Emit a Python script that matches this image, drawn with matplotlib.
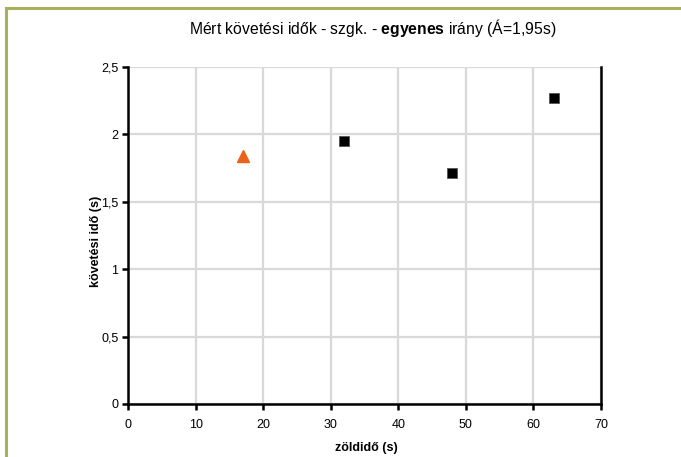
import matplotlib
matplotlib.use("Agg")
import matplotlib.pyplot as plt
from matplotlib.patches import Rectangle

plt.rcParams['font.family'] = ['Liberation Sans', 'DejaVu Sans']
plt.rcParams['mathtext.fontset'] = 'custom'
plt.rcParams['mathtext.rm'] = 'Liberation Sans'
plt.rcParams['mathtext.bf'] = 'Liberation Sans:bold'

# measured points
green_time = [32, 48, 63]
follow_time = [1.95, 1.71, 2.27]
# the single highlighted measurement
special_green = [17]
special_follow = [1.84]

x_ticks = [0, 10, 20, 30, 40, 50, 60, 70]
y_ticks = [0, 0.5, 1, 1.5, 2, 2.5]
y_tick_labels = ['0', '0,5', '1', '1,5', '2', '2,5']

fig = plt.figure(figsize=(6.81, 4.57), dpi=100)

# olive frame around the chart
fig.patches.append(Rectangle((6 / 681, -0.1), 1.2, (457 - 8) / 457 + 0.1,
                             transform=fig.transFigure, fill=False,
                             edgecolor='#a8b05a', linewidth=2.2))

ax = fig.add_axes([128 / 681, 1 - 404 / 457, 473 / 681, 337 / 457])
ax.set_xlim(0, 70)
ax.set_ylim(0, 2.5)
ax.set_xticks(x_ticks)
ax.set_yticks(y_ticks)
ax.set_yticklabels(y_tick_labels)
ax.grid(True, color='#d9d9d9', linewidth=1.6)
ax.set_axisbelow(True)

for side in ['left', 'bottom', 'right']:
    ax.spines[side].set_color('black')
    ax.spines[side].set_linewidth(1.8)
ax.spines['top'].set_visible(False)
ax.spines['right'].set_zorder(3)

ax.tick_params(axis='both', direction='out', length=4, width=1.8,
               labelsize=9, colors='black')
ax.tick_params(axis='x', pad=7)
ax.tick_params(axis='y', pad=3)

ax.plot(green_time, follow_time, linestyle='none', marker='s',
        markersize=7.2, markerfacecolor='black', markeredgecolor='#555555',
        markeredgewidth=0.6, clip_on=False, zorder=4)
ax.plot(special_green, special_follow, linestyle='none', marker='^',
        markersize=8.5, markerfacecolor='#e8641b', markeredgecolor='#e8641b',
        clip_on=False, zorder=4)

ax.set_xlabel('zöldidő (s)', fontsize=9, fontweight='bold', va='center')
ax.set_ylabel('követési idő (s)', fontsize=9, fontweight='bold', va='center')
ax.xaxis.set_label_coords(0.503, -0.131)
ax.yaxis.set_label_coords(-0.0677, 0.484)

fig.text(373 / 681, 1 - 28 / 457,
         r'Mért követési idők - szgk. - $\mathbf{egyenes}$ irány (Á=1,95s)',
         ha='center', va='center', fontsize=11.3)

fig.savefig('out.png', dpi=100)
